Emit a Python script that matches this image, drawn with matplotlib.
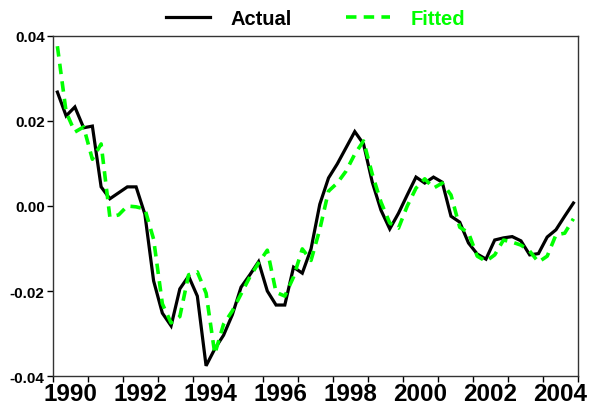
import matplotlib.pyplot as plt
from matplotlib.ticker import FixedLocator, FixedFormatter, FormatStrFormatter, NullFormatter
import numpy as np

# quarterly observations, 1990Q1 - 2004Q4
start_year = 1990
actual = [0.0268, 0.0212, 0.0233, 0.0184, 0.0188, 0.0045, 0.0017, 0.0031, 0.0045, 0.0045,
          -0.0019, -0.0176, -0.0252, -0.0282, -0.0195, -0.0165, -0.0212, -0.0376, -0.0336, -0.0304,
          -0.0256, -0.0191, -0.0162, -0.0131, -0.0200, -0.0233, -0.0233, -0.0144, -0.0158, -0.0101,
          0.0004, 0.0066, 0.0099, 0.0137, 0.0175, 0.0146, 0.0056, -0.0010, -0.0054, -0.0017,
          0.0026, 0.0068, 0.0054, 0.0068, 0.0056, -0.0024, -0.0038, -0.0087, -0.0113, -0.0125,
          -0.0080, -0.0075, -0.0072, -0.0082, -0.0115, -0.0112, -0.0073, -0.0056, -0.0024, 0.0007]
fitted = [0.0376, 0.0221, 0.0174, 0.0186, 0.0110, 0.0146, -0.0026, -0.0021, 0.0000, -0.0002,
          -0.0007, -0.0078, -0.0230, -0.0275, -0.0260, -0.0162, -0.0155, -0.0205, -0.0348, -0.0278,
          -0.0247, -0.0207, -0.0167, -0.0134, -0.0104, -0.0203, -0.0212, -0.0167, -0.0101, -0.0128,
          -0.0055, 0.0035, 0.0054, 0.0082, 0.0122, 0.0153, 0.0075, 0.0009, -0.0040, -0.0052,
          0.0000, 0.0042, 0.0064, 0.0042, 0.0054, 0.0026, -0.0050, -0.0063, -0.0118, -0.0130,
          -0.0115, -0.0080, -0.0085, -0.0092, -0.0106, -0.0132, -0.0118, -0.0068, -0.0064, -0.0030]
year_labels = list(range(1990, 2005, 2))
y_ticks = [-0.04, -0.02, 0.00, 0.02, 0.04]

t = start_year + (np.arange(len(actual)) + 0.5) / 4
end_year = start_year + len(actual) // 4

plt.rcParams['font.family'] = ['Liberation Sans', 'DejaVu Sans']
plt.rcParams['font.weight'] = 'bold'

fig = plt.figure(figsize=(5.89, 4.06), dpi=100)
ax = fig.add_axes([0.09, 0.0714, 0.891, 0.8375])

ax.plot(t, actual, color='black', lw=2.3, label='Actual', solid_joinstyle='miter')
ax.plot(t, fitted, color='#00ff00', lw=2.6, dashes=(2.9, 2.0), label='Fitted')

ax.set_xlim(start_year, end_year)
ax.set_ylim(-0.04, 0.04)

# tick marks on year boundaries, labels centred inside the year
ax.xaxis.set_major_locator(FixedLocator(range(start_year, end_year + 1)))
ax.xaxis.set_major_formatter(NullFormatter())
ax.xaxis.set_minor_locator(FixedLocator([y + 0.5 for y in year_labels]))
ax.xaxis.set_minor_formatter(FixedFormatter([str(y) for y in year_labels]))
ax.set_yticks(y_ticks)
ax.yaxis.set_major_formatter(FormatStrFormatter('%.2f'))

ax.tick_params(axis='x', which='major', direction='out', length=4, width=1)
ax.tick_params(axis='x', which='minor', length=0, pad=4, labelsize=17.5)
ax.tick_params(axis='y', direction='out', length=4, width=1, pad=2, labelsize=11)
for s in ax.spines.values():
    s.set_linewidth(1.0)
    s.set_color('#333333')

ax.legend(loc='center', bbox_to_anchor=(0.5, 1.05), ncol=2, frameon=False,
          handlelength=2.2, handletextpad=1.0, columnspacing=2.7,
          prop={'size': 14.5, 'weight': 'bold'},
          labelcolor=['black', '#00ff00'], borderaxespad=0, borderpad=0.1)

fig.savefig('out.png', dpi=100)
